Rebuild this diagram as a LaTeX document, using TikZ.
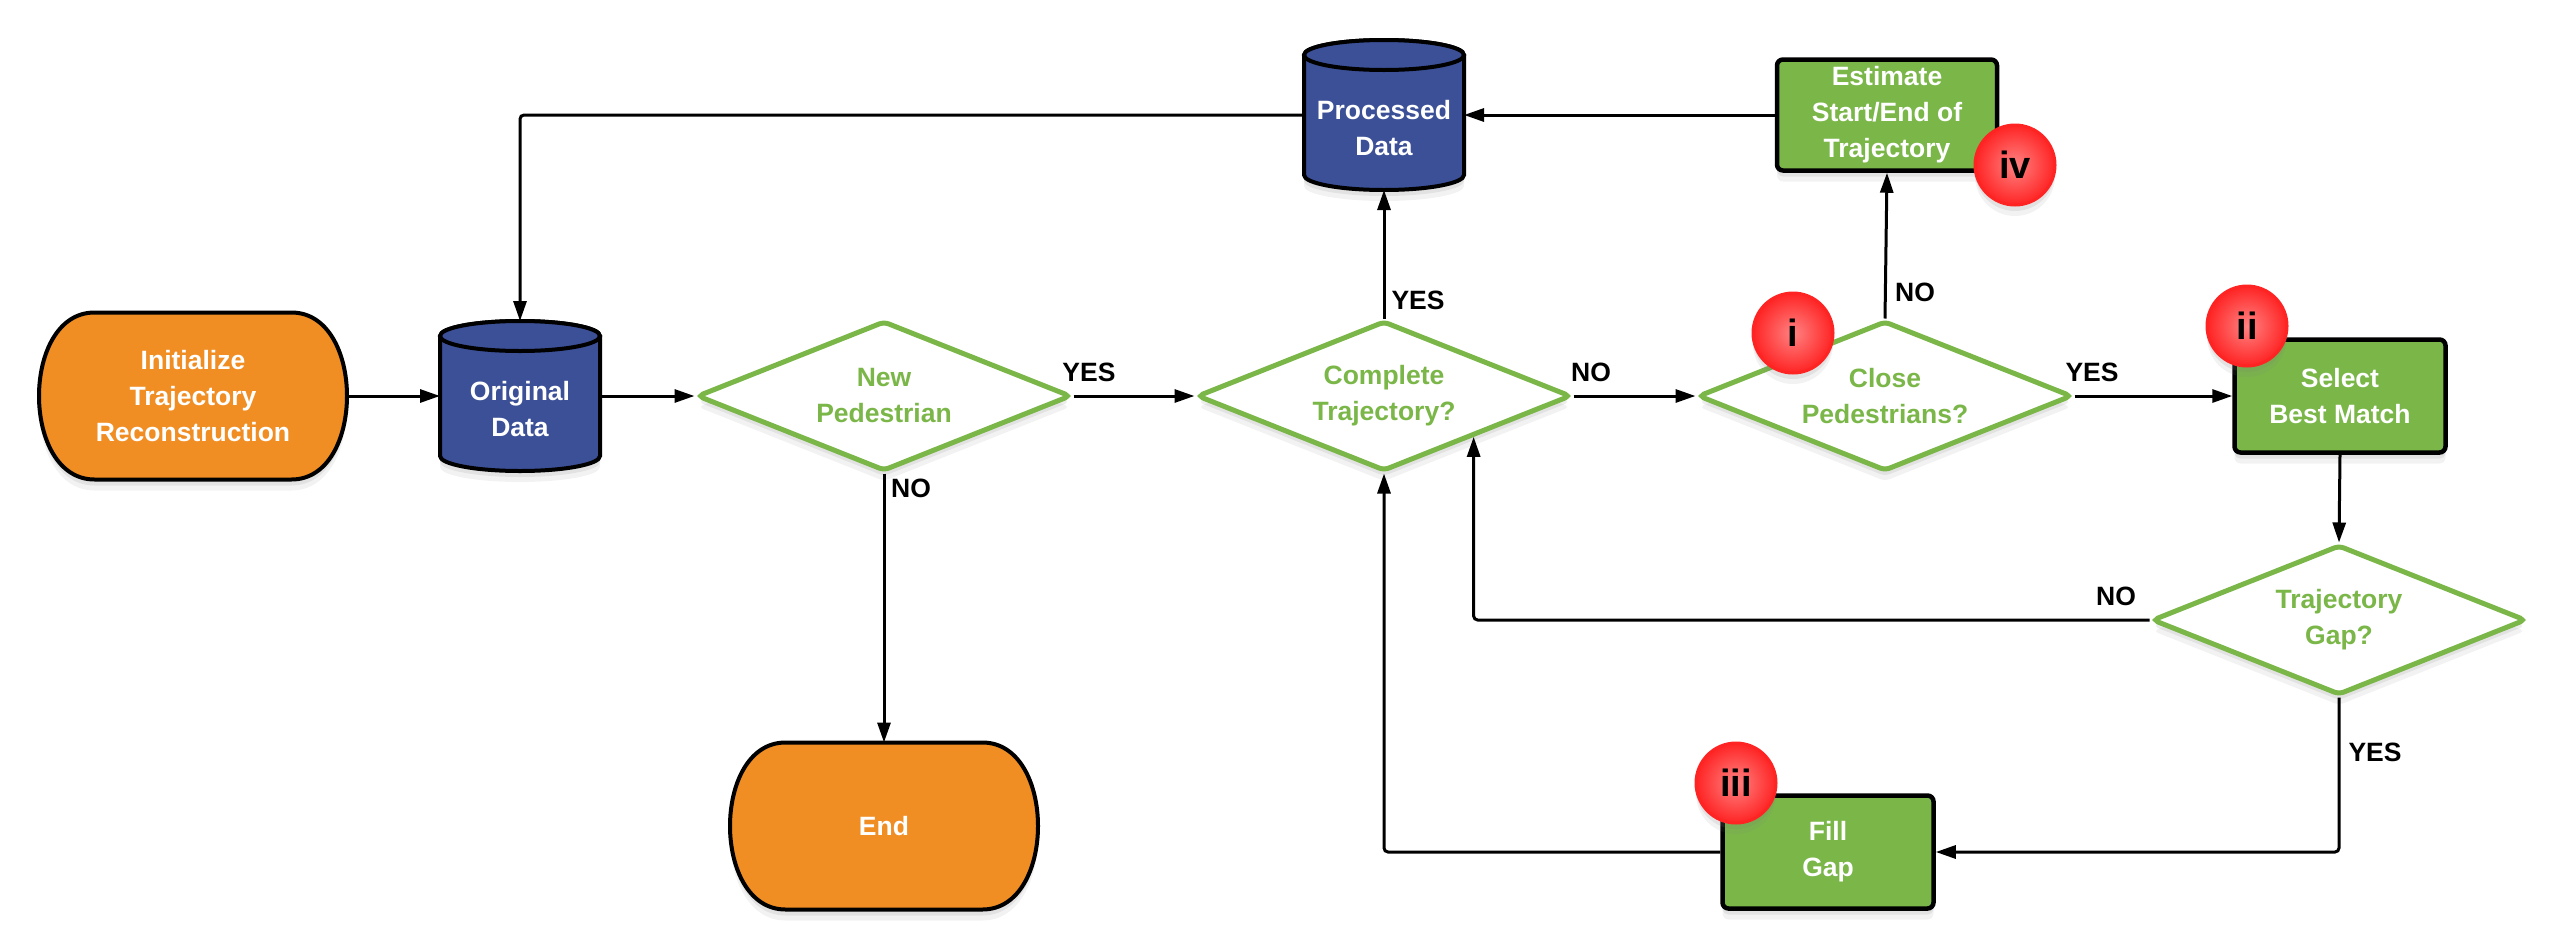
\documentclass[tikz,border=0pt]{standalone}
\usepackage{fontspec}
\setmainfont{Liberation Sans}
\usetikzlibrary{shapes.geometric,arrows.meta,calc,shadows}
\pgfdeclarelayer{background}
\pgfsetlayers{background,main}

\definecolor{termorange}{HTML}{F08D23}
\definecolor{dbblue}{HTML}{3C5097}
\definecolor{procgreen}{HTML}{7AB648}
\definecolor{badgered}{HTML}{FF2424}
\definecolor{badgepink}{HTML}{FF8282}

\tikzset{
  softshadow/.style={
    drop shadow={opacity=0.10,shadow xshift=0pt,shadow yshift=-11pt},
    drop shadow={opacity=0.14,shadow xshift=0pt,shadow yshift=-6pt}},
  txt/.style={font=\fontsize{26.5}{36}\selectfont\bfseries, align=center},
  terminal/.style={rectangle, minimum width=307pt, minimum height=167pt,
    inner sep=0pt, outer sep=0pt, text=white, txt},
  termline/.style={draw=black, line width=4pt, fill=termorange, softshadow},
  db/.style={rectangle, minimum width=160pt, minimum height=150pt,
    inner sep=0pt, outer sep=0pt, text=white, txt},
  dbline/.style={draw=black, line width=4pt, fill=dbblue},
  decision/.style={diamond, aspect=2.5, minimum width=374pt, minimum height=150pt,
    inner sep=0pt, draw=procgreen, line width=5pt, fill=white,
    rounded corners=5pt, text=procgreen, txt, softshadow},
  procbox/.style={rectangle, draw=black, line width=4.5pt, fill=procgreen,
    rounded corners=6pt, text=white, txt, softshadow, inner sep=0pt},
  conn/.style={line width=3pt, -{Triangle[length=20pt,width=13pt]},
    rounded corners=4pt},
  lbl/.style={font=\fontsize{26.5}{30}\selectfont\bfseries, text=black, inner sep=0pt},
  badge/.style={circle, minimum size=80pt, inner sep=0pt, draw=badgered,
    line width=3pt, inner color=badgepink, outer color=badgered,
    font=\fontsize{38}{40}\selectfont\bfseries, text=black, softshadow}
}

% outline of a terminal node: straight top and bottom, bulging sides
\newcommand{\terminalpath}[1]{%
  \begin{pgfonlayer}{background}
  \draw[termline] ($(#1.north west)+(55pt,0)$) -- ($(#1.north east)+(-55pt,0)$)
    .. controls ($(#1.north east)+(19pt,0)$) and ($(#1.south east)+(19pt,0)$) .. ($(#1.south east)+(-55pt,0)$)
    -- ($(#1.south west)+(55pt,0)$)
    .. controls ($(#1.south west)+(-19pt,0)$) and ($(#1.north west)+(-19pt,0)$) .. cycle;
  \end{pgfonlayer}}

% outline of a database cylinder
\newcommand{\dbpath}[1]{%
  \begin{pgfonlayer}{background}
  \draw[dbline, softshadow] ($(#1.north west)+(0,15)$) -- ($(#1.south west)+(0,-15)$)
    arc[start angle=180, end angle=0, x radius=80, y radius=15]
    -- ($(#1.north east)+(0,15)$)
    arc[start angle=0, end angle=-180, x radius=80, y radius=15] -- cycle;
  \draw[dbline] ($(#1.north)+(0,15)$) ellipse[x radius=80, y radius=15];
  \end{pgfonlayer}}

% two-line label set slightly below the centre of a cylinder
\newcommand{\dblabel}[2]{\raisebox{-15pt}[\height][\depth]{\begin{tabular}{@{}c@{}}#1\\#2\end{tabular}}}

\begin{document}
\begin{tikzpicture}[x=1pt, y=-1pt]
\useasboundingbox (0,0) rectangle (2568,948);

% nodes
\node[terminal] (init) at (193,396) {Initialize\\Trajectory\\Reconstruction};
\terminalpath{init}
\node[terminal] (end) at (884,826) {End};
\terminalpath{end}

\node[db] (orig) at (520,396) {\dblabel{Original}{Data}};
\dbpath{orig}
\node[db] (proc) at (1384,115) {\dblabel{Processed}{Data}};
\dbpath{proc}

\node[decision] (np)  at (884,396)  {New\\Pedestrian};
\node[decision] (cmp) at (1384,396) {Complete\\Trajectory?};
\node[decision] (cls) at (1885,396) {Close\\Pedestrians?};
\node[decision] (gap) at (2339,620) {Trajectory\\Gap?};

\node[procbox, minimum width=211pt, minimum height=113pt] (sel)  at (2340,396) {Select\\Best Match};
\node[procbox, minimum width=220pt, minimum height=111pt] (est)  at (1887,115) {Estimate\\Start/End of\\Trajectory};
\node[procbox, minimum width=211pt, minimum height=113pt] (fill) at (1828,852) {Fill\\Gap};

% connectors
\draw[conn] (init.east) -- (orig.west);
\draw[conn] (orig.east) -- (np.west);
\draw[conn] (np.east) -- (cmp.west);
\draw[conn] (np.south) -- (end.north);
\draw[conn] (cmp.north) -- (proc.south);
\draw[conn] (cmp.east) -- (cls.west);
\draw[conn] (cls.north) -- (est.south);
\draw[conn] (cls.east) -- (sel.west);
\draw[conn] (est.west) -- (proc.east);
\draw[conn] (proc.west) -| (orig.north);
\draw[conn] (sel.south) -- (gap.north);
\coordinate (cmpedge) at ($(cmp.south)!0.473!(cmp.east)$);
\draw[conn] (gap.west) -| (cmpedge);
\draw[conn] (gap.south) |- (fill.east);
\draw[conn] (fill.west) -| (cmp.south);

% branch labels
\node[lbl] (l1) at (1089,372) {YES};
\node[lbl] (l2) at (911,488)  {NO};
\node[lbl] (l3) at (1418,300) {YES};
\node[lbl] (l4) at (1591,372) {NO};
\node[lbl] (l5) at (1915,292) {NO};
\node[lbl] (l6) at (2092,372) {YES};
\node[lbl] (l7) at (2116,596) {NO};
\node[lbl] (l8) at (2375,752) {YES};

% numbered markers
\node[badge] (b1) at (1793,333) {i};
\node[badge] (b2) at (2247,326) {ii};
\node[badge] (b3) at (1736,783) {iii};
\node[badge] (b4) at (2015,165) {iv};
\end{tikzpicture}
\end{document}
